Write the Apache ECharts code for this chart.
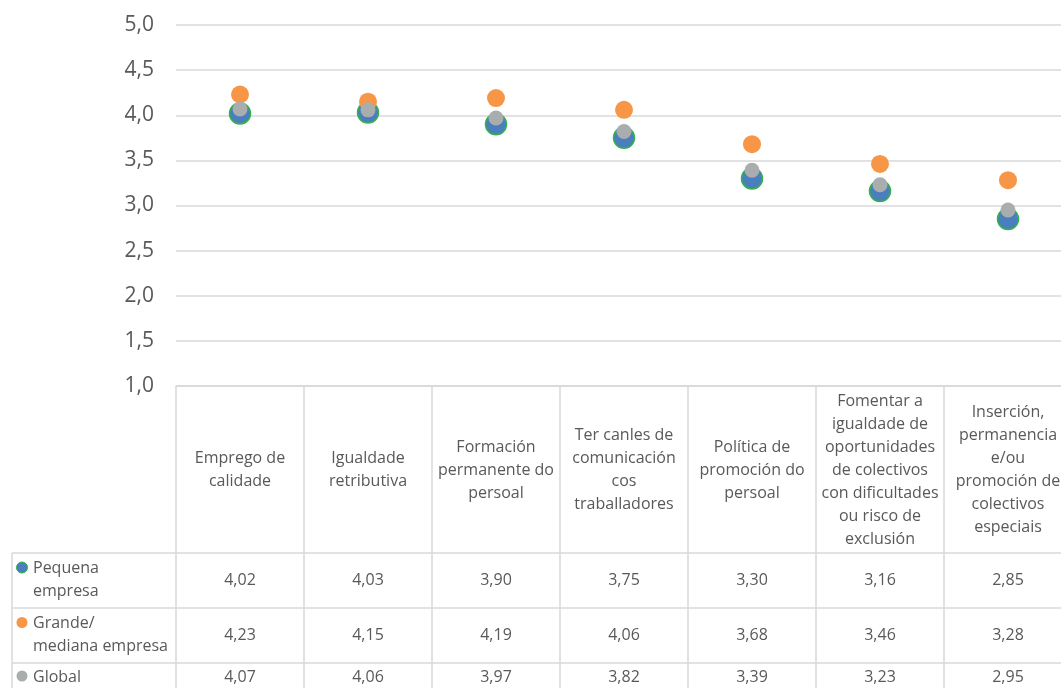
<!DOCTYPE html>
<html>
<head>
<meta charset="utf-8">
<script src="https://cdn.jsdelivr.net/npm/echarts@6/dist/echarts.min.js"></script>
<style>
  html, body { margin: 0; padding: 0; background: #ffffff; overflow: hidden; }
  /* the table's last column runs a little past the right edge of the page */
  #chart { width: 1072px; height: 688px; }
</style>
</head>
<body>
<div id="chart"></div>
<script>
// Category names (line breaks as shown in the table header)
const categories = [
  'Emprego de\ncalidade',
  'Igualdade\nretributiva',
  'Formación\npermanente do\npersoal',
  'Ter canles de\ncomunicación\ncos\ntraballadores',
  'Política de\npromoción do\npersoal',
  'Fomentar a\nigualdade de\noportunidades\nde colectivos\ncon dificultades\nou risco de\nexclusión',
  'Inserción,\npermanencia\ne/ou\npromoción de\ncolectivos\nespeciais'
];

// Series values
const pequena = [4.02, 4.03, 3.90, 3.75, 3.30, 3.16, 2.85];
const grande  = [4.23, 4.15, 4.19, 4.06, 3.68, 3.46, 3.28];
const global  = [4.07, 4.06, 3.97, 3.82, 3.39, 3.23, 2.95];

// Series names and the row labels used in the data table
const seriesNames = ['Pequena empresa', 'Grande/mediana empresa', 'Global'];
const rowLabels = ['Pequena\nempresa', 'Grande/\nmediana empresa', 'Global'];

// Value axis
const yMin = 1, yMax = 5, yStep = 0.5;

const TEXT = '#595959';
const LINE = '#d9d9d9';
const FONT = 'Open Sans';
const colors = ['#4a7ebf', '#f79646', '#a9adad'];

const fmt = (v, d) => v.toFixed(d).replace('.', ',');

const chart = echarts.init(document.getElementById('chart'), null, { renderer: 'canvas' });

chart.setOption({
  animation: false,
  backgroundColor: '#ffffff',
  grid: { left: 176, right: 0, top: 25, bottom: 302, containLabel: false },
  xAxis: {
    type: 'category',
    data: categories,
    boundaryGap: true,
    axisLine: { show: true, lineStyle: { color: LINE, width: 1.5 } },
    axisTick: { show: true, length: 302, lineStyle: { color: LINE, width: 1.5 } },
    axisLabel: {
      interval: 0, margin: 84, verticalAlign: 'middle', align: 'center',
      lineHeight: 23, fontSize: 16, fontFamily: FONT, color: TEXT
    },
    splitLine: { show: false }
  },
  yAxis: {
    type: 'value',
    min: yMin, max: yMax, interval: yStep,
    axisLine: { show: false },
    axisTick: { show: false },
    axisLabel: {
      margin: 22, fontSize: 21, fontFamily: FONT, color: TEXT,
      formatter: v => fmt(v, 1)
    },
    splitLine: { lineStyle: { color: LINE, width: 1.5 } }
  },
  series: [
    {
      name: seriesNames[0], type: 'scatter', data: pequena, symbolSize: 21,
      itemStyle: { color: colors[0], borderColor: '#33b04a', borderWidth: 1.5, opacity: 1 }
    },
    {
      name: seriesNames[1], type: 'scatter', data: grande, symbolSize: 18,
      itemStyle: { color: colors[1], opacity: 1 }
    },
    {
      name: seriesNames[2], type: 'scatter', data: global, symbolSize: 15,
      itemStyle: { color: colors[2], opacity: 1 }
    }
  ]
});

// Data table under the axis: row lines, row headers with markers, and values
const allSeries = [pequena, grande, global];
const rowCenters = [580, 635, 677];
const rowLines = [553, 608, 663];
const graphics = [];

rowLines.forEach(y => {
  graphics.push({
    type: 'line', silent: true,
    shape: { x1: 12, y1: y, x2: 1072, y2: y },
    style: { stroke: LINE, lineWidth: 1.5 }
  });
});
graphics.push({
  type: 'line', silent: true,
  shape: { x1: 12, y1: 553, x2: 12, y2: 688 },
  style: { stroke: LINE, lineWidth: 1.5 }
});

rowLabels.forEach((label, r) => {
  const lines = label.split('\n').length;
  const firstLineY = rowCenters[r] - (lines - 1) * 11.5;
  graphics.push({
    type: 'circle', silent: true,
    shape: { cx: 22, cy: firstLineY - 1, r: 5.5 },
    style: r === 0
      ? { fill: colors[0], stroke: '#33b04a', lineWidth: 1 }
      : { fill: colors[r] }
  });
  graphics.push({
    type: 'text', silent: true,
    x: 33, y: rowCenters[r],
    style: {
      text: label, fill: TEXT, font: '16px "' + FONT + '"',
      lineHeight: 23, align: 'left', verticalAlign: 'middle'
    }
  });
});

allSeries.forEach((vals, r) => {
  vals.forEach((v, i) => {
    const x = chart.convertToPixel({ xAxisIndex: 0 }, i);
    graphics.push({
      type: 'text', silent: true,
      x: x, y: rowCenters[r],
      style: {
        text: fmt(v, 2), fill: TEXT, font: '16px "' + FONT + '"',
        align: 'center', verticalAlign: 'middle'
      }
    });
  });
});

chart.setOption({ graphic: graphics });
</script>
</body>
</html>
